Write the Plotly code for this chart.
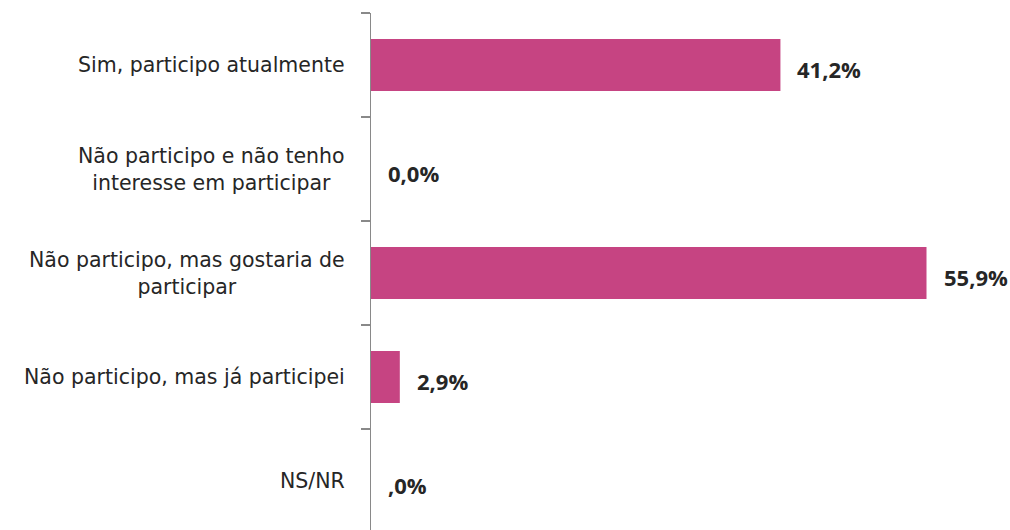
import plotly.graph_objects as go

categories = [
    "Sim, participo atualmente",
    "Não participo e não tenho<br>interesse em participar",
    "Não participo, mas gostaria de<br>participar",
    "Não participo, mas já participei",
    "NS/NR",
]
values = [41.2, 0.0, 55.9, 2.9, 0.0]
value_labels = ["41,2%", "0,0%", "55,9%", "2,9%", ",0%"]

BAR = "#C64482"
TXT = "#262626"

fig = go.Figure()
fig.add_trace(go.Bar(
    y=list(range(len(categories))), x=values, orientation="h",
    marker=dict(color=BAR, line=dict(width=0)),
    hoverinfo="skip",
))

for i, (cat, v, lab) in enumerate(zip(categories, values, value_labels)):
    fig.add_annotation(x=0, y=i, xref="x", yref="y", text=cat, showarrow=False,
                       xanchor="right", align="center", xshift=-24, yshift=0,
                       font=dict(family="DejaVu Sans", size=20.5, color=TXT))
    fig.add_annotation(x=v, y=i, xref="x", yref="y", text="<b>%s</b>" % lab, showarrow=False,
                       xanchor="left", xshift=15, yshift=-4,
                       font=dict(family="Open Sans", size=22, color=TXT))

fig.update_layout(
    width=1010, height=530,
    margin=dict(l=371, r=3, t=13, b=0),
    paper_bgcolor="white", plot_bgcolor="white",
    showlegend=False, bargap=0.5,
    xaxis=dict(range=[0, 64.0], visible=False, fixedrange=True),
    yaxis=dict(range=[4.47, -0.5], tickmode="array",
               tickvals=[-0.5, 0.5, 1.5, 2.5, 3.5], ticktext=[""] * 5,
               ticks="outside", ticklen=9, tickcolor="#898989", tickwidth=1.5,
               showline=True, linecolor="#898989", linewidth=1.5,
               showgrid=False, zeroline=False, fixedrange=True),
)

fig.write_html(
    "out.html",
    config={"displayModeBar": False, "staticPlot": True},
    post_script="document.body.style.margin='0';document.body.style.overflow='hidden';",
)
